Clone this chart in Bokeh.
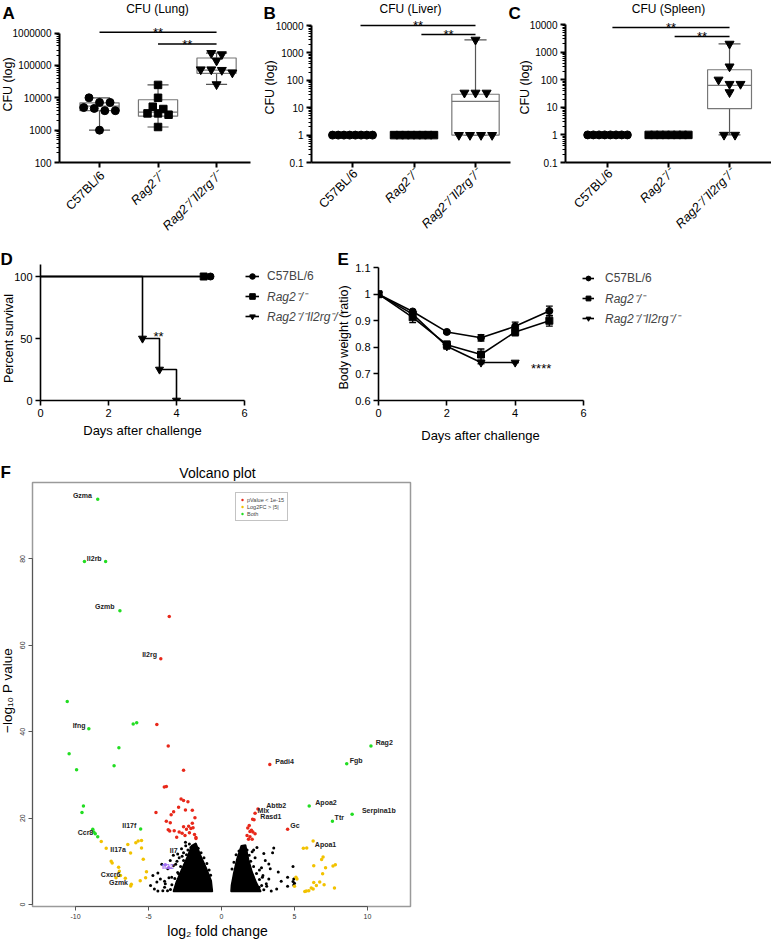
import numpy as np
from math import pi
from bokeh.plotting import figure
from bokeh.layouts import row, column
from bokeh.models import Range1d, FixedTicker, Legend, LegendItem, GridBox
from bokeh.embed import file_html
from bokeh.resources import INLINE
from bokeh.core.properties import value

FONT = "Liberation Sans"
W, H = 771, 941

# ------------------------------------------------------------------ data
genotypes = ["C57BL/6", "Rag2⁻/⁻", "Rag2⁻/⁻Il2rg⁻/⁻"]
genotype_italic = [False, True, True]
genotype_markers = ["circle", "square", "inverted_triangle"]

lung_c57 = [10000, 7200, 7200, 5000, 4700, 4000, 4000, 1000]
lung_rag2 = [25000, 10000, 5300, 4500, 3300, 3300, 3000, 1250]
lung_dko = [240000, 220000, 140000, 75000, 75000, 72000, 60000, 26000]
liver_c57 = [1, 1, 1, 1, 1, 1, 1, 1]
liver_rag2 = [1, 1, 1, 1, 1, 1, 1, 1]
liver_dko = [3000, 35, 35, 35, 1, 1, 1, 1]
spleen_c57 = [1, 1, 1, 1, 1, 1, 1, 1]
spleen_rag2 = [1, 1, 1, 1, 1, 1, 1, 1]
spleen_dko = [2000, 300, 100, 70, 70, 35, 1, 1]

# box statistics: min, q1, median, q3, max
lung_box = [[1000, 4000, 5500, 7000, 10000], [1250, 2700, 3600, 8700, 25000], [26000, 57000, 72000, 170000, 240000]]
liver_box = [[1, 1, 1, 1, 1], [1, 1, 1, 1, 1], [1, 1, 17, 31, 3000]]
spleen_box = [[1, 1, 1, 1, 1], [1, 1, 1, 1, 1], [1, 9, 63, 230, 2000]]

lung_ticks = [100, 1000, 10000, 100000, 1000000]
lung_tick_labels = ["100", "1000", "10000", "100000", "1000000"]
organ_ticks = [0.1, 1, 10, 100, 1000, 10000]
organ_tick_labels = ["0.1", "1", "10", "100", "1000", "10000"]

# significance bars: (from group, to group, bar level)
lung_sig = [(1, 3, 1.07e6), (2, 3, 4.6e5)]
liver_sig = [(1.13, 3, 10000), (2.12, 3, 4700)]
spleen_sig = [(1.08, 3, 7800), (2.1, 3, 3660)]

# survival (D)
surv_days = [[0, 5], [0, 4.8], [0, 3, 3.5, 4]]
surv_pct = [[100, 100], [100, 100], [100, 50, 25, 0]]
surv_tick_x = [0, 2, 4, 6]
surv_tick_y = [0, 50, 100]

# body weight (E)
wt_days = [[0, 1, 2, 3, 4, 5], [0, 1, 2, 3, 4, 5], [0, 1, 2, 3, 4]]
wt_mean = [[1.0, 0.935, 0.858, 0.836, 0.879, 0.937],
           [1.0, 0.913, 0.810, 0.773, 0.858, 0.900],
           [1.0, 0.925, 0.804, 0.743, 0.743]]
wt_err = [[0, 0.006, 0.005, 0.012, 0.016, 0.018],
          [0, 0.020, 0.013, 0.021, 0.015, 0.020],
          [0, 0.008, 0.010, 0.005, 0.0]]
wt_tick_y = [0.6, 0.7, 0.8, 0.9, 1.0, 1.1]

# volcano (F)
green_x = [-8.48, -9.39, -7.94, -6.96, -10.57, -9.09, -6.05, -5.81, -7.03, -10.44, -7.36, -9.93, -9.46, -9.56,
           -5.54, -8.82, -8.75, -8.65, -8.48, 10.24, 8.58, 6.01, 7.60, 8.95]
green_y = [93.8, 79.4, 79.4, 68.0, 47.0, 40.7, 41.8, 42.1, 36.3, 34.9, 32.1, 31.2, 22.8, 21.3,
           17.5, 17.4, 16.8, 16.4, 15.7, 36.7, 32.6, 22.8, 19.3, 20.9]
red_x = [-3.58, -4.16, -4.43, -3.65, -2.60, -3.92, -3.78, -4.49, -2.77, -2.60, -2.30, -2.94, -3.28, -2.47,
         -2.00, -3.45, -1.82, -3.78, -3.51, -2.00, -2.60, -2.25, -2.10, -2.40, -1.95, -3.65, -3.55, -3.24,
         -2.70, -2.20, -1.85, -1.75, -1.75, -3.07, -2.50, -2.90,
         3.31, 2.50, 2.30, 2.13, 2.23, 4.53, 1.80, 1.95, 2.15, 2.30, 1.75, 1.95, 1.85, 2.10, 2.05, 1.90]
red_y = [66.7, 56.9, 41.7, 36.7, 31.1, 27.2, 27.3, 21.3, 24.4, 24.1, 23.8, 22.5, 21.5, 21.9,
         21.8, 20.8, 20.1, 19.3, 18.9, 18.8, 18.0, 18.1, 17.6, 17.4, 17.8, 17.3, 17.0, 17.1,
         16.5, 16.6, 16.2, 15.5, 15.3, 15.6, 16.0, 16.8,
         32.4, 22.1, 21.1, 19.75, 19.6, 17.4, 17.7, 16.9, 16.8, 16.4, 16.0, 15.7, 15.1, 15.1, 17.2, 18.3]
orange_x = [-8.24, -7.90, -6.42, -6.23, -5.87, -5.71, -5.48, -5.48, -5.36, -7.56, -7.49, -7.05, -7.00,
            -5.14, -5.20, -6.92, -7.23, -6.59, -6.18, -6.22, -5.57,
            6.28, 5.84, 5.61, 6.96, 6.86, 6.32, 7.64, 7.80, 7.13, 6.93, 5.10, 5.17, 5.00, 6.32, 6.73,
            7.03, 6.15, 5.98, 5.81, 5.71, 6.28, 7.74, 6.50]
orange_y = [14.6, 13.0, 13.9, 11.9, 14.3, 14.7, 14.8, 13.1, 10.5, 10.0, 9.6, 8.6, 7.7,
            7.6, 6.2, 6.7, 6.2, 6.1, 4.7, 4.3, 5.5,
            14.7, 13.1, 13.0, 11.0, 10.4, 9.0, 8.9, 9.2, 8.5, 7.1, 6.3, 5.9, 4.2, 5.1, 5.2,
            4.6, 3.8, 3.2, 3.1, 3.0, 3.6, 3.8, 4.4]
purple_x = [-3.85, -3.60]
purple_y = [9.2, 8.5]
black_x = [-4.86, -4.70, -4.36, -4.43, -4.02, -4.36, -4.19, -3.68, -3.51, -3.85, -3.41, -3.00, -2.74,
           -2.47, -2.20, -3.14, -2.94, -4.09, -3.30, -2.90, -2.60, -3.60, -4.60, -3.90, -3.20, -2.45,
           -3.50, -3.40, -3.20, -3.00, -2.80, -2.60, -2.40, -2.30, -2.10, -1.60, -1.40, -1.20, -1.00,
           -0.85, -0.75, -3.70, -3.90, -3.30, -3.05, -2.70,
           3.58, 2.43, 3.00, 3.24, 3.34, 2.74, 3.89, 4.09, 4.53, 4.53, 3.78, 3.41, 3.07, 2.57, 2.84,
           3.24, 4.90, 4.95, 4.90, 5.00, 4.95, 2.20, 3.50, 2.90,
           2.90, 2.75, 2.60, 2.40, 2.20, 2.00, 1.90, 1.75, 1.20, 1.00, 0.85, 0.72, 3.10, 2.80, 2.60,
           2.30, 2.10]
black_y = [4.4, 6.7, 7.3, 5.2, 3.2, 3.1, 5.9, 8.3, 10.2, 4.8, 6.3, 11.7, 12.9,
           14.4, 14.0, 9.3, 7.1, 9.3, 11.4, 10.8, 12.0, 6.2, 3.6, 4.0, 3.3, 13.6,
           3.5, 4.6, 6.0, 7.4, 8.8, 10.2, 11.5, 12.6, 13.2, 13.0, 12.0, 10.8, 9.5,
           8.0, 6.8, 3.2, 5.4, 9.0, 10.0, 11.2,
           13.1, 13.2, 10.2, 9.4, 8.3, 8.5, 7.5, 5.4, 6.3, 4.2, 3.6, 3.1, 4.8, 4.0, 6.7,
           5.9, 8.8, 5.9, 5.3, 4.9, 4.5, 12.6, 12.0, 11.8,
           3.4, 4.4, 5.8, 7.2, 8.8, 10.0, 11.4, 12.6, 12.4, 11.5, 9.8, 8.2, 4.2, 6.3, 8.0,
           10.8, 12.2]
core_left_x = [-3.30, -0.62, -0.70, -1.05, -1.45, -1.75, -2.05, -2.35, -2.75, -3.10]
core_left_y = [3.0, 3.0, 5.5, 8.5, 11.5, 14.2, 13.6, 11.0, 8.0, 5.2]
core_right_x = [0.65, 2.70, 2.40, 2.10, 1.85, 1.65, 1.35, 1.05, 0.82, 0.68]
core_right_y = [3.0, 3.0, 5.0, 7.5, 10.5, 13.8, 13.6, 10.5, 7.0, 4.5]
vol_label_text = ["Gzma", "Il2rb", "Gzmb", "Il2rg", "Ifng", "Il17f", "Ccr8", "Il17a", "Il7", "Il22",
                  "Cxcr6", "Gzmk", "Padi4", "Abtb2", "Mlx", "Rasd1", "Gc", "Rag2", "Fgb", "Apoa2",
                  "Serpina1b", "Ttr", "Apoa1"]
vol_label_x = [-9.53, -8.72, -8.00, -4.93, -9.76, -6.32, -9.32, -7.09, -3.28, -3.68, -7.60, -7.06,
               4.32, 3.75, 2.87, 3.38, 5.03, 11.15, 9.22, 7.16, 10.78, 8.07, 7.13]
vol_label_y = [94.8, 80.2, 68.9, 57.8, 41.4, 18.3, 16.6, 12.7, 12.5, 8.8, 7.0, 5.2,
               33.2, 22.9, 21.8, 20.4, 18.2, 37.4, 33.3, 23.6, 21.8, 20.1, 13.9]
vol_x_ticks = [-10, -5, 0, 5, 10]
vol_y_ticks = [0, 20, 40, 60, 80]

# ------------------------------------------------------------------ helpers
def swarm(vals, t, d, wmax):
    lv = np.log10(np.asarray(vals, dtype=float))
    order = np.argsort(-lv, kind="stable")
    offs = np.zeros(len(vals))
    clusters = []
    for i in order:
        if clusters and clusters[-1][0] - lv[i] <= t:
            clusters[-1][1].append(i)
        else:
            clusters.append([lv[i], [i]])
    for _, idx in clusters:
        n = len(idx)
        if n > 1:
            s = min(d, wmax / (n - 1))
            for k, i in enumerate(idx):
                offs[i] = (k - (n - 1) / 2) * s
    return offs


def mkfig(w, h, xr, yr, ml, mr, mt, mb, ytype="linear"):
    p = figure(width=w, height=h, x_range=xr, y_range=yr, y_axis_type=ytype,
               min_border_left=ml, min_border_right=mr, min_border_top=mt, min_border_bottom=mb,
               output_backend="svg", toolbar_location=None)
    p.outline_line_color = None
    p.xgrid.visible = False
    p.ygrid.visible = False
    return p


def prism_axes(p, lw, fs):
    for ax in (p.xaxis[0], p.yaxis[0]):
        ax.axis_line_width = lw
        ax.axis_line_color = "black"
        ax.major_tick_line_width = lw
        ax.major_tick_line_color = "black"
        ax.major_tick_out = 5
        ax.major_tick_in = 0
        ax.minor_tick_line_width = 1
        ax.minor_tick_line_color = "black"
        ax.minor_tick_out = 3
        ax.minor_tick_in = 0
        ax.major_label_text_font = FONT
        ax.major_label_text_font_size = fs
        ax.major_label_text_color = "black"
        ax.major_label_standoff = 3


def box_panel(w, h, ml, mr, mb, xr, yr, ticks, tick_labels, groups, boxes, sig, hw, t):
    p = mkfig(w, h, Range1d(*xr), Range1d(*yr), ml, mr, 0, mb, ytype="log")
    prism_axes(p, 2, "10px")
    minor = [d * k for d in ticks[:-1] for k in range(2, 10)]
    p.yaxis.ticker = FixedTicker(ticks=ticks, minor_ticks=minor)
    p.yaxis.major_label_overrides = {tk: lb for tk, lb in zip(ticks, tick_labels)}
    p.yaxis.bounds = (ticks[0], ticks[-1])
    # category ticks drawn as (label-less) minor ticks; names are placed by the overlay
    p.xaxis.ticker = FixedTicker(ticks=[], minor_ticks=[1, 2, 3])
    p.xaxis.minor_tick_out = 5
    p.xaxis.minor_tick_line_width = 2
    cw = 0.18
    for i, (vals, st, mk) in enumerate(zip(groups, boxes, genotype_markers)):
        x = i + 1
        mn, q1, md, q3, mx = st
        p.segment(x0=[x, x], y0=[mn, q3], x1=[x, x], y1=[q1, mx], line_color="#555555", line_width=1.2)
        p.segment(x0=[x - cw, x - cw], y0=[mn, mx], x1=[x + cw, x + cw], y1=[mn, mx],
                  line_color="#555555", line_width=1.2)
        p.quad(left=[x - hw], right=[x + hw], bottom=[q1], top=[q3], fill_color="white",
               line_color="#777777", line_width=1.2)
        p.segment(x0=[x - hw], y0=[md], x1=[x + hw], y1=[md], line_color="#777777", line_width=1.2)
        offs = swarm(vals, t, 0.18, 0.65)
        size = {"circle": 8, "square": 7.5, "inverted_triangle": 9}[mk]
        p.scatter(x=list(x + offs), y=vals, marker=mk, size=size, fill_color="black", line_color="black")
    for g0, g1, lvl in sig:
        p.segment(x0=[g0], y0=[lvl], x1=[g1], y1=[lvl], line_color="black", line_width=1.5)
        p.text(x=[(g0 + g1) / 2], y=[lvl], text=["**"], text_font=value(FONT), text_font_size="13px",
               text_align="center", text_baseline="alphabetic", text_color="black")
    return p


# ------------------------------------------------------------------ row 1 : A, B, C
pA = box_panel(258, 236, 59, 8, 72, (0.316, 3.58), (100, 10 ** (6 + 33 / 32.75)),
               lung_ticks, lung_tick_labels, [lung_c57, lung_rag2, lung_dko], lung_box, lung_sig, 0.335, 0.15)
pB = box_panel(255, 236, 53, 3, 74, (0.333, 3.569), (0.1, 10 ** (4 + 25 / 27.4)),
               organ_ticks, organ_tick_labels, [liver_c57, liver_rag2, liver_dko], liver_box, liver_sig, 0.385, 0.25)
pC = box_panel(258, 236, 52, 0, 74, (0.311, 3.688), (0.1, 10 ** (4 + 24 / 27.5)),
               organ_ticks, organ_tick_labels, [spleen_c57, spleen_rag2, spleen_dko], spleen_box, spleen_sig, 0.36, 0.25)

# ------------------------------------------------------------------ row 2 : D
D_W = 348
pD = mkfig(D_W, 227, Range1d(0, (D_W - 40) / 34), Range1d(0, 100 + 32 / 1.24), 40, 0, 8, 63)
prism_axes(pD, 1.6, "11px")
pD.xaxis.ticker = FixedTicker(ticks=surv_tick_x, minor_ticks=[])
pD.yaxis.ticker = FixedTicker(ticks=surv_tick_y, minor_ticks=[])
pD.xaxis.bounds = (0, 6)
pD.yaxis.bounds = (0, 110)
legend_rows_D = [114, 94, 74]
for k, (dx, dy, mk) in enumerate(zip(surv_days, surv_pct, genotype_markers)):
    ln = pD.step(x=dx, y=dy, mode="after", line_color="black", line_width=1.6)
    size = {"circle": 7, "square": 7, "inverted_triangle": 8}[mk]
    sc = pD.scatter(x=dx[1:], y=dy[1:], marker=mk, size=size, fill_color="black", line_color="black")
    pD.add_layout(Legend(items=[LegendItem(label=genotypes[k], renderers=[ln, sc])],
                         location=(205, legend_rows_D[k]), padding=0, margin=0, spacing=0,
                         border_line_color=None, background_fill_alpha=0,
                         glyph_width=14, glyph_height=20, label_height=20, label_standoff=8,
                         label_text_font=FONT, label_text_font_size="12px",
                         label_text_font_style="italic" if genotype_italic[k] else "normal"))
pD.text(x=[3.47], y=[52], text=["**"], text_font=value(FONT), text_font_size="13px",
        text_align="center", text_baseline="alphabetic")

# ------------------------------------------------------------------ row 2 : E
E_W = W - D_W
E_ML = 378 - D_W
pE = mkfig(E_W, 227, Range1d(0, (E_W - E_ML) / 34.17), Range1d(0.6, 1.1 + 24 / 276), E_ML, 0, 8, 57)
prism_axes(pE, 1.6, "11px")
pE.xaxis.ticker = FixedTicker(ticks=surv_tick_x, minor_ticks=[])
pE.yaxis.ticker = FixedTicker(ticks=wt_tick_y, minor_ticks=[])
pE.xaxis.bounds = (0, 6)
pE.yaxis.bounds = (0.6, 1.1)
legend_rows_E = [112, 92, 72]
for k, (dx, m, e, mk) in enumerate(zip(wt_days, wt_mean, wt_err, genotype_markers)):
    dx = np.array(dx, float)
    m = np.array(m)
    e = np.array(e)
    ln = pE.line(x=dx, y=m, line_color="black", line_width=1.6)
    pE.segment(x0=dx, y0=m - e, x1=dx, y1=m + e, line_color="black", line_width=1.4)
    pE.segment(x0=np.r_[dx, dx] - 0.1, y0=np.r_[m - e, m + e], x1=np.r_[dx, dx] + 0.1,
               y1=np.r_[m - e, m + e], line_color="black", line_width=1.4)
    size = {"circle": 7, "square": 7, "inverted_triangle": 8}[mk]
    sc = pE.scatter(x=dx, y=m, marker=mk, size=size, fill_color="black", line_color="black")
    pE.add_layout(Legend(items=[LegendItem(label=genotypes[k], renderers=[ln, sc])],
                         location=(204, legend_rows_E[k]), padding=0, margin=0, spacing=0,
                         border_line_color=None, background_fill_alpha=0,
                         glyph_width=12, glyph_height=20, label_height=20, label_standoff=11,
                         label_text_font=FONT, label_text_font_size="12px",
                         label_text_font_style="italic" if genotype_italic[k] else "normal"))
pE.text(x=[4.76], y=[0.722], text=["****"], text_font=value(FONT), text_font_size="13px",
        text_align="center", text_baseline="alphabetic")

# ------------------------------------------------------------------ row 3 : F volcano
pF = mkfig(420, 478, Range1d(-12.95, 12.95), Range1d(-0.46, 97.7), 32, 10, 19, 35)
pF.outline_line_color = "#9a9a9a"
pF.outline_line_width = 1.5
for ax in (pF.xaxis[0], pF.yaxis[0]):
    ax.axis_line_color = "#555555"
    ax.axis_line_width = 1
    ax.major_tick_line_color = "#555555"
    ax.major_tick_out = 4
    ax.major_tick_in = 0
    ax.minor_tick_line_color = None
    ax.major_label_text_font = FONT
    ax.major_label_text_font_size = "7px"
    ax.major_label_text_color = "#333333"
    ax.major_label_standoff = 3
pF.xaxis.ticker = FixedTicker(ticks=vol_x_ticks, minor_ticks=[])
pF.xaxis.major_label_overrides = {t: str(t) for t in vol_x_ticks}
pF.xaxis.bounds = (-10, 10)
pF.yaxis.ticker = FixedTicker(ticks=vol_y_ticks, minor_ticks=[])
pF.yaxis.major_label_overrides = {t: str(t) for t in vol_y_ticks}
pF.yaxis.bounds = (0, 80)
pF.yaxis.major_label_orientation = "vertical"

pF.patch(x=core_left_x, y=core_left_y, fill_color="black", line_color="black", line_width=1.5)
pF.patch(x=core_right_x, y=core_right_y, fill_color="black", line_color="black", line_width=1.5)
pF.scatter(x=black_x, y=black_y, size=3, fill_color="black", line_color=None)
r_or = pF.scatter(x=orange_x, y=orange_y, size=3.5, fill_color="#F2C200", line_color=None)
r_red = pF.scatter(x=red_x, y=red_y, size=3.5, fill_color="#E8281A", line_color=None)
r_gr = pF.scatter(x=green_x, y=green_y, size=3.5, fill_color="#22DD22", line_color=None)
pF.scatter(x=purple_x, y=purple_y, size=3.5, fill_color="#A06BF0", line_color=None)
lab_colors = ["#A06BF0" if t == "Il22" else "#222222" for t in vol_label_text]
pF.text(x=vol_label_x, y=vol_label_y, text=vol_label_text, text_color=lab_colors,
        text_font=value(FONT), text_font_size="7px", text_font_style="bold",
        text_align="center", text_baseline="middle")
pF.add_layout(Legend(items=[LegendItem(label="pValue < 1e-15", renderers=[r_red]),
                            LegendItem(label="Log2FC > |5|", renderers=[r_or]),
                            LegendItem(label="Both", renderers=[r_gr])],
                     location=(203, 385), padding=3, margin=0, spacing=0,
                     border_line_color="#888888", border_line_width=1,
                     glyph_width=6, glyph_height=7, label_height=7, label_standoff=2,
                     label_text_font=FONT, label_text_font_size="5.5px"))

main = column(row(pA, pB, pC, spacing=0), row(pD, pE, spacing=0), pF, spacing=0)

# ------------------------------------------------------------------ overlay with the panel texts
ov = figure(width=W, height=H, x_range=Range1d(0, W), y_range=Range1d(0, H),
            x_axis_location=None, y_axis_location=None, min_border=0,
            output_backend="svg", toolbar_location=None)
ov.grid.visible = False
ov.outline_line_color = None
ov.background_fill_alpha = 0
ov.border_fill_alpha = 0

# (text, x, y from top, size, angle, align, baseline, style)
overlay_texts = [
    ("A", 2, 3, "17px", 0, "left", "top", "bold"),
    ("B", 263, 3, "17px", 0, "left", "top", "bold"),
    ("C", 508, 3, "17px", 0, "left", "top", "bold"),
    ("D", 0, 249, "17px", 0, "left", "top", "bold"),
    ("E", 337, 249, "17px", 0, "left", "top", "bold"),
    ("F", 0, 462, "17px", 0, "left", "top", "bold"),
    ("CFU (Lung)", 157, 8, "12px", 0, "center", "middle", "normal"),
    ("CFU (Liver)", 410, 8, "12px", 0, "center", "middle", "normal"),
    ("CFU (Spleen)", 668, 8, "12px", 0, "center", "middle", "normal"),
    ("CFU (log)", 7, 84, "12.5px", pi / 2, "center", "middle", "normal"),
    ("CFU (log)", 269, 87, "12.5px", pi / 2, "center", "middle", "normal"),
    ("CFU (log)", 524, 87, "12.5px", pi / 2, "center", "middle", "normal"),
    ("Percent survival", 8, 338, "12.5px", pi / 2, "center", "middle", "normal"),
    ("Body weight (ratio)", 343, 337, "12.5px", pi / 2, "center", "middle", "normal"),
    ("Days after challenge", 142, 430, "13px", 0, "center", "middle", "normal"),
    ("Days after challenge", 480, 435, "13px", 0, "center", "middle", "normal"),
    ("Volcano plot", 217, 472, "14px", 0, "center", "middle", "normal"),
    ("−log₁₀ P value", 7, 690, "13.5px", pi / 2, "center", "middle", "normal"),
    ("log₂ fold change", 217, 930, "14px", 0, "center", "middle", "normal"),
]
cat_positions = [([99, 159, 216], 173), ([352, 413, 475], 171), ([607, 668, 729], 171)]
for xs, yy in cat_positions:
    for xx, g, it in zip(xs, genotypes, genotype_italic):
        overlay_texts.append((g, xx + 3, yy, "12.5px", pi / 4, "right", "middle",
                              "italic" if it else "normal"))

for txt, x, y, size, ang, al, bl, st in overlay_texts:
    ov.text(x=[x], y=[H - y], text=[txt], angle=ang, text_align=al, text_baseline=bl,
            text_font=value(FONT), text_font_size=size, text_font_style=st, text_color="black")

layout = GridBox(children=[(main, 0, 0), (ov, 0, 0)])

open("out.html", "w").write(file_html(layout, INLINE))
